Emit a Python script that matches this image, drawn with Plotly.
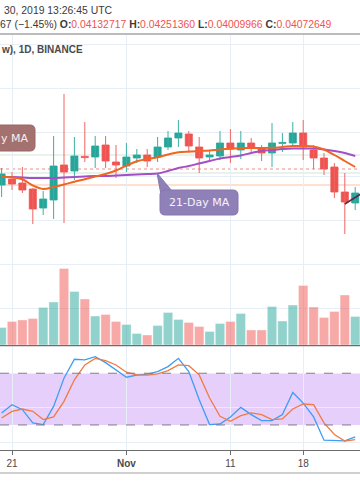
import plotly.graph_objects as go

# ---------------- data ----------------
dates = ["2019-10-20", "2019-10-21", "2019-10-22", "2019-10-23", "2019-10-24", "2019-10-25",
         "2019-10-26", "2019-10-27", "2019-10-28", "2019-10-29", "2019-10-30", "2019-10-31",
         "2019-11-01", "2019-11-02", "2019-11-03", "2019-11-04", "2019-11-05", "2019-11-06",
         "2019-11-07", "2019-11-08", "2019-11-09", "2019-11-10", "2019-11-11", "2019-11-12",
         "2019-11-13", "2019-11-14", "2019-11-15", "2019-11-16", "2019-11-17", "2019-11-18",
         "2019-11-19", "2019-11-20", "2019-11-21", "2019-11-22", "2019-11-23"]

opens = [0.03955, 0.03985, 0.03965, 0.03935, 0.0384, 0.0388, 0.04055, 0.04025, 0.04098, 0.04095,
         0.04155, 0.0407, 0.0405, 0.0409, 0.04105, 0.04095, 0.04145, 0.0419, 0.0421, 0.04145,
         0.04095, 0.041, 0.04165, 0.0413, 0.04165, 0.0414, 0.04115, 0.04163, 0.04165, 0.04215,
         0.0413, 0.0409, 0.04045, 0.0392, 0.03865]
highs = [0.0404, 0.0402, 0.04045, 0.0394, 0.03925, 0.042, 0.0441, 0.04195, 0.0427, 0.042,
         0.042, 0.04155, 0.04165, 0.04135, 0.04135, 0.04195, 0.04225, 0.0428, 0.04225, 0.04195,
         0.0413, 0.04225, 0.04235, 0.04225, 0.0419, 0.04155, 0.04265, 0.04215, 0.0427, 0.0428,
         0.04155, 0.04115, 0.04065, 0.04015, 0.03945]
lows = [0.03895, 0.0393, 0.03915, 0.0376, 0.03805, 0.03785, 0.03765, 0.0398, 0.0407, 0.0404,
        0.0404, 0.0399, 0.0402, 0.04065, 0.04045, 0.0407, 0.0413, 0.04145, 0.04115, 0.04015,
        0.0407, 0.0408, 0.04065, 0.04085, 0.04115, 0.04075, 0.04045, 0.0412, 0.04145, 0.0408,
        0.04035, 0.04005, 0.0389, 0.0371, 0.0383]
closes = [0.0401, 0.0396, 0.0393, 0.03835, 0.03885, 0.0405, 0.0402, 0.041, 0.04092, 0.0415,
          0.04075, 0.04055, 0.04095, 0.04105, 0.04075, 0.04145, 0.0419, 0.04215, 0.0415, 0.0409,
          0.04105, 0.04165, 0.04135, 0.04165, 0.0414, 0.04115, 0.04165, 0.04168, 0.04215, 0.04145,
          0.0409, 0.04035, 0.0392, 0.0387, 0.03915]
volumes = [35, 47, 50, 53, 75, 86, 153, 107, 92, 58, 61, 47, 41, 23, 20, 39, 65, 51, 45, 37,
           27, 43, 47, 63, 30, 30, 77, 48, 80, 119, 76, 55, 67, 100, 57]

ma_fast = [0.03995, 0.039935, 0.03984, 0.039525, 0.03935, 0.03945, 0.039575, 0.039715, 0.03984,
           0.03997, 0.0401, 0.040275, 0.040515, 0.040735, 0.04085, 0.040935, 0.041075, 0.041185,
           0.041225, 0.04125, 0.041275, 0.041325, 0.04136, 0.0414, 0.0414, 0.0414, 0.04141,
           0.04145, 0.0415, 0.0415, 0.041475, 0.041325, 0.04105, 0.04075, 0.04045]
ma_21 = [0.03995, 0.03995, 0.039925, 0.0399, 0.0399, 0.0399, 0.039925, 0.03995, 0.039975, 0.04,
         0.04, 0.040025, 0.04005, 0.040075, 0.0401, 0.040125, 0.04025, 0.0404, 0.0405, 0.040625,
         0.04075, 0.040875, 0.04095, 0.041025, 0.04115, 0.04125, 0.0413, 0.04135, 0.041375,
         0.041375, 0.041375, 0.041325, 0.04125, 0.04115, 0.041]

stoch_k = [33.9, 43.5, 37.7, 22.4, 20.4, 41.5, 74.3, 96.2, 95.4, 99.2, 92.3, 83.9, 75.4, 77.7,
           78.9, 81.9, 87.7, 97.3, 81.9, 49.2, 20.4, 21.1, 29.3, 40.4, 32.0, 25.0, 25.0, 32.0,
           57.7, 45.4, 29.3, 2.3, 1.9, 1.5, 6.1]
stoch_d = [28.1, 35.8, 38.5, 35.8, 26.2, 29.3, 47.4, 72.4, 89.6, 97.3, 94.7, 89.6, 81.2, 78.1,
           77.7, 79.3, 83.1, 89.6, 88.8, 78.1, 51.2, 30.0, 24.2, 30.8, 33.9, 32.0, 26.2, 27.0,
           38.5, 44.3, 43.5, 22.4, 8.9, 1.2, 3.1]

h_levels = {"price": 0.04035, "green_hi": 0.04105, "green_lo": 0.04015, "peach": 0.03955}
trend_x = ["2019-11-22", "2019-11-23", "2019-11-24"]
trend_y = [0.0386, 0.038925, 0.03925]

tick_dates = ["2019-10-21", "2019-11-01", "2019-11-11", "2019-11-18"]
tick_text = ["21", "<b>Nov</b>", "11", "18"]

# ---------------- styling ----------------
W, H = 360, 504
UP, DOWN = "#26a69a", "#ef5350"
GRID = "#e7eef5"
FONT = "Liberation Sans"
DAY = 86400000


def px(x):
    return x / W


def py(y):
    return 1 - y / H


def rrect(x0, y0, x1, y1, r):
    return (f"M {px(x0 + r)},{py(y0)} L {px(x1 - r)},{py(y0)} "
            f"Q {px(x1)},{py(y0)} {px(x1)},{py(y0 + r)} L {px(x1)},{py(y1 - r)} "
            f"Q {px(x1)},{py(y1)} {px(x1 - r)},{py(y1)} L {px(x0 + r)},{py(y1)} "
            f"Q {px(x0)},{py(y1)} {px(x0)},{py(y1 - r)} L {px(x0)},{py(y0 + r)} "
            f"Q {px(x0)},{py(y0)} {px(x0 + r)},{py(y0)} Z")


is_up = [c >= o for o, c in zip(opens, closes)]
vol_colors = ["rgba(38,166,154,0.5)" if u else "rgba(239,83,80,0.5)" for u in is_up]
body_colors = [UP if u else DOWN for u in is_up]
body_base = [min(o, c) for o, c in zip(opens, closes)]
body_len = [max(abs(c - o), 0.00002) for o, c in zip(opens, closes)]

fig = go.Figure()

fig.add_trace(go.Bar(x=dates, y=volumes, xaxis="x2", yaxis="y2",
                     marker=dict(color=vol_colors, line=dict(color="rgba(255,255,255,0.6)", width=0.6)),
                     width=0.9 * DAY, showlegend=False))

# wicks
for flag, col in ((True, "#3cb0a5"), (False, "#f06663")):
    wx, wy = [], []
    for d, h, l, u in zip(dates, highs, lows, is_up):
        if u == flag:
            wx += [d, d, None]
            wy += [h, l, None]
    fig.add_trace(go.Scatter(x=wx, y=wy, xaxis="x2", yaxis="y", mode="lines",
                             line=dict(color=col, width=1), showlegend=False))

# bodies
fig.add_trace(go.Bar(x=dates, y=body_len, base=body_base, xaxis="x2", yaxis="y",
                     width=0.68 * DAY,
                     marker=dict(color=body_colors, line=dict(color=body_colors, width=0.8)),
                     showlegend=False))

fig.add_trace(go.Scatter(x=dates, y=ma_21, xaxis="x2", yaxis="y", mode="lines",
                         line=dict(color="#a44fc6", width=2, shape="spline"), showlegend=False))
fig.add_trace(go.Scatter(x=dates, y=ma_fast, xaxis="x2", yaxis="y", mode="lines",
                         line=dict(color="#f0651f", width=2, shape="spline"), showlegend=False))
fig.add_trace(go.Scatter(x=trend_x, y=trend_y, xaxis="x2", yaxis="y", mode="lines",
                         line=dict(color="#5e2848", width=1.5), showlegend=False))

fig.add_trace(go.Scatter(x=dates, y=stoch_k, xaxis="x", yaxis="y3", mode="lines",
                         line=dict(color="#3f9cf2", width=1.3), showlegend=False))
fig.add_trace(go.Scatter(x=dates, y=stoch_d, xaxis="x", yaxis="y3", mode="lines",
                         line=dict(color="#f27a3e", width=1.3), showlegend=False))

xrange = ["2019-10-19 20:18:28", "2019-11-23 11:04:37"]

shapes = [
    dict(type="rect", xref="paper", yref="y3", x0=0, x1=1, y0=20, y1=80,
         fillcolor="#e7cffb", line=dict(width=0), layer="below"),
    dict(type="line", xref="paper", yref="y3", x0=0, x1=1, y0=80, y1=80,
         line=dict(color="#7d7d86", width=1, dash="dash")),
    dict(type="line", xref="paper", yref="y3", x0=0, x1=1, y0=20, y1=20,
         line=dict(color="#7d7d86", width=1, dash="dash")),
    dict(type="line", xref="paper", yref="y", x0=0, x1=1, y0=h_levels["green_hi"], y1=h_levels["green_hi"],
         line=dict(color="#d3e8d1", width=1.2), layer="below"),
    dict(type="line", xref="paper", yref="y", x0=0, x1=1, y0=h_levels["green_lo"], y1=h_levels["green_lo"],
         line=dict(color="#d3e6d6", width=1.2), layer="below"),
    dict(type="line", xref="paper", yref="y", x0=0, x1=1, y0=h_levels["peach"], y1=h_levels["peach"],
         line=dict(color="#fdd6bf", width=1.6), layer="below"),
    dict(type="line", xref="paper", yref="y", x0=0, x1=1, y0=h_levels["price"], y1=h_levels["price"],
         line=dict(color="#f08c89", width=1.2, dash="dot"), layer="below"),
    dict(type="line", xref="paper", yref="paper", x0=0, x1=1, y0=py(34), y1=py(34),
         line=dict(color="#7a7a7a", width=1.2)),
    dict(type="line", xref="paper", yref="paper", x0=0, x1=1, y0=py(345.6), y1=py(345.6),
         line=dict(color="#6b6e78", width=1.4)),
    dict(type="line", xref="paper", yref="paper", x0=0, x1=1, y0=py(473), y1=py(473),
         line=dict(color="#a0a0a0", width=1)),
    dict(type="path", xref="paper", yref="paper", path=rrect(-12, 125, 35, 151, 5),
         fillcolor="#a3716f", line=dict(color="#9a6866", width=1)),
    dict(type="path", xref="paper", yref="paper",
         path=f"M {px(157)},{py(173)} L {px(160.5)},{py(192)} L {px(172)},{py(191)} Z",
         fillcolor="#9080b8", line=dict(color="#8676ad", width=1)),
    dict(type="path", xref="paper", yref="paper", path=rrect(160, 190, 238, 215, 5),
         fillcolor="#9080b8", line=dict(color="#8676ad", width=1)),
]

red = "#ef5350"
line2 = (f"67 (−1.45%) <b>O:</b><span style='color:{red}'>0.04132717</span> "
         f"<b>H:</b><span style='color:{red}'>0.04251360</span> "
         f"<b>L:</b><span style='color:{red}'>0.04009966</span> "
         f"<b>C:</b><span style='color:{red}'>0.04072649</span>")

annotations = [
    dict(text="30, 2019 13:26:45 UTC", xref="paper", yref="paper", x=px(1.5), y=py(10),
         xanchor="left", yanchor="middle", showarrow=False,
         font=dict(family=FONT, size=10.4, color="#3a3a3a")),
    dict(text=line2, xref="paper", yref="paper", x=px(-2), y=py(24),
         xanchor="left", yanchor="middle", showarrow=False,
         font=dict(family=FONT, size=10.4, color="#3a3a3a")),
    dict(text="<b>w), 1D, BINANCE</b>", xref="paper", yref="paper", x=px(-1.5), y=py(50),
         xanchor="left", yanchor="middle", showarrow=False,
         font=dict(family=FONT, size=10, color="#4a4a4a")),
    dict(text="y MA", xref="paper", yref="paper", x=px(14.5), y=py(138),
         xanchor="center", yanchor="middle", showarrow=False,
         font=dict(family="DejaVu Sans", size=11, color="#f7efef")),
    dict(text="21-Day MA", xref="paper", yref="paper", x=px(199), y=py(202.5),
         xanchor="center", yanchor="middle", showarrow=False,
         font=dict(family="DejaVu Sans", size=11, color="#f6f3fb")),
]

fig.update_layout(
    width=W, height=H, margin=dict(l=0, r=0, t=0, b=0),
    paper_bgcolor="white", plot_bgcolor="white",
    showlegend=False, bargap=0, barmode="overlay", hovermode=False,
    xaxis=dict(type="date", domain=[0, 1], anchor="y3", range=xrange,
               tickvals=tick_dates, ticktext=tick_text, showgrid=True, gridcolor=GRID,
               ticks="outside", ticklen=4, tickcolor="#6d6d6d",
               showline=True, linecolor="#6d6d6d", linewidth=1.2,
               tickfont=dict(family=FONT, size=10, color="#4a4a4a")),
    xaxis2=dict(type="date", domain=[0, 1], anchor="y", range=xrange,
                tickvals=tick_dates, showticklabels=False, showgrid=True, gridcolor=GRID),
    yaxis=dict(domain=[py(345), py(35)], anchor="x2", range=[0.03155, 0.04705],
               tickvals=[0.0334, 0.0356, 0.0378, 0.04, 0.0422, 0.0444, 0.0466],
               showticklabels=False, showgrid=True, gridcolor=GRID, zeroline=False),
    yaxis2=dict(domain=[py(345), py(35)], anchor="x2", overlaying="y", range=[0, 620],
                visible=False, showgrid=False, zeroline=False),
    yaxis3=dict(domain=[py(450), py(346)], anchor="x", range=[-9.05, 111.6],
                tickvals=[0, 40, 80], showticklabels=False, showgrid=True, gridcolor=GRID,
                zeroline=False),
    shapes=shapes, annotations=annotations,
)

fig.write_html("out.html", config={"displayModeBar": False, "staticPlot": True},
               post_script="document.body.style.margin='0';document.body.style.padding='0';"
                           "document.body.style.overflow='hidden';")
